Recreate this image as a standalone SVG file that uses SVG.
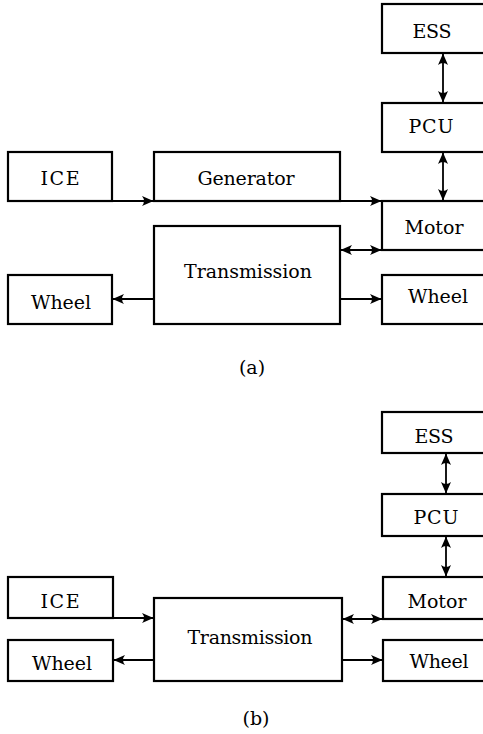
<svg xmlns="http://www.w3.org/2000/svg" width="483" height="734" viewBox="0 0 483 734">
<style>
.box{fill:#fff;stroke:#000;stroke-width:2.2}
.lbl{font-family:'DejaVu Serif','Liberation Serif',serif;font-size:19px;fill:#000;text-anchor:middle}
.con line{stroke:#000;stroke-width:1.8}
.one{marker-end:url(#ah)}
.two{marker-start:url(#ah);marker-end:url(#ah)}
</style>
<defs>
<marker id="ah" viewBox="-12 -6 13 12" refX="0" refY="0" markerWidth="13" markerHeight="12" orient="auto-start-reverse" markerUnits="userSpaceOnUse">
<path d="M0.5,0 L-11,-5 Q-7,0 -11,5 Z" fill="#000"/>
</marker>
</defs>
<rect width="483" height="734" fill="#fff"/>

<!-- (a) -->
<g id="a-ess"><rect class="box" x="382" y="4" width="120" height="49"/><text class="lbl" x="432" y="38" textLength="39">ESS</text></g>
<g id="a-pcu"><rect class="box" x="382" y="103" width="120" height="49"/><text class="lbl" x="431" y="133" textLength="45">PCU</text></g>
<g id="a-ice"><rect class="box" x="8" y="152" width="104" height="49"/><text class="lbl" x="60" y="185" textLength="39">ICE</text></g>
<g id="a-gen"><rect class="box" x="154" y="152" width="186" height="49"/><text class="lbl" x="246" y="185" textLength="97">Generator</text></g>
<g id="a-motor"><rect class="box" x="382" y="201" width="120" height="49"/><text class="lbl" x="434" y="234" textLength="59">Motor</text></g>
<g id="a-trans"><rect class="box" x="154" y="226" width="186" height="98"/><text class="lbl" x="248" y="278" textLength="128">Transmission</text></g>
<g id="a-wheel-l"><rect class="box" x="8" y="275" width="104" height="49"/><text class="lbl" x="61" y="309" textLength="60">Wheel</text></g>
<g id="a-wheel-r"><rect class="box" x="382" y="275" width="120" height="49"/><text class="lbl" x="438" y="303" textLength="60">Wheel</text></g>
<text class="lbl" x="252" y="374">(a)</text>

<!-- (b) -->
<g id="b-ess"><rect class="box" x="382" y="412" width="120" height="41"/><text class="lbl" x="434" y="443" textLength="39">ESS</text></g>
<g id="b-pcu"><rect class="box" x="382" y="494" width="120" height="42"/><text class="lbl" x="436" y="524" textLength="45">PCU</text></g>
<g id="b-ice"><rect class="box" x="8" y="577" width="105" height="41"/><text class="lbl" x="60" y="608" textLength="39">ICE</text></g>
<g id="b-motor"><rect class="box" x="383" y="577" width="120" height="42"/><text class="lbl" x="437" y="608" textLength="59">Motor</text></g>
<g id="b-trans"><rect class="box" x="154" y="598" width="188" height="83"/><text class="lbl" x="250" y="644" textLength="125">Transmission</text></g>
<g id="b-wheel-l"><rect class="box" x="8" y="640" width="105" height="41"/><text class="lbl" x="62" y="670" textLength="60">Wheel</text></g>
<g id="b-wheel-r"><rect class="box" x="383" y="640" width="120" height="41"/><text class="lbl" x="439" y="668" textLength="59">Wheel</text></g>
<text class="lbl" x="256" y="725">(b)</text>

<g id="connectors" class="con">
<line class="two" x1="443" y1="54" x2="443" y2="102"/>
<line class="two" x1="443" y1="153" x2="443" y2="200"/>
<line class="one" x1="112" y1="201" x2="153" y2="201"/>
<line class="one" x1="340" y1="201" x2="381" y2="201"/>
<line class="two" x1="341" y1="250" x2="381" y2="250"/>
<line class="one" x1="154" y1="299" x2="113" y2="299"/>
<line class="one" x1="340" y1="299" x2="381" y2="299"/>

<line class="two" x1="446" y1="454" x2="446" y2="493"/>
<line class="two" x1="446" y1="537" x2="446" y2="576"/>
<line class="one" x1="113" y1="618" x2="153" y2="618"/>
<line class="two" x1="343" y1="619" x2="382" y2="619"/>
<line class="one" x1="154" y1="660" x2="114" y2="660"/>
<line class="one" x1="342" y1="660" x2="382" y2="660"/>
</g>
</svg>
